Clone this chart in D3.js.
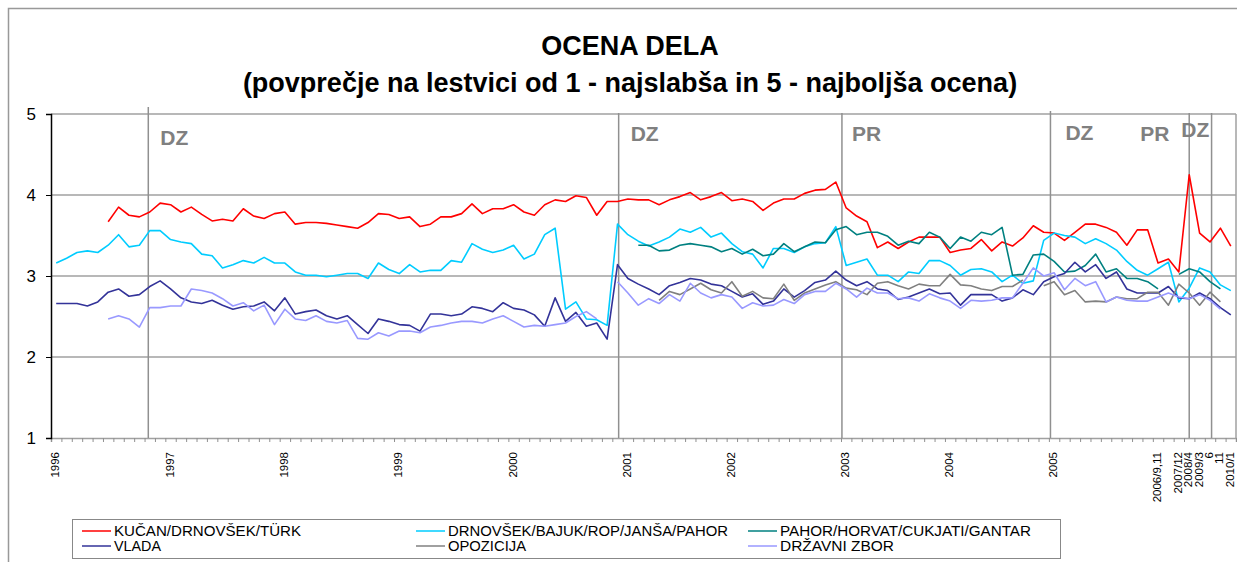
<!DOCTYPE html>
<html lang="sl">
<head>
<meta charset="UTF-8" />
<title>Ocena dela</title>
<script src="https://d3js.org/d3.v7.min.js"></script>
<style>
  body { margin: 0; background: #fff; font-family: "Liberation Sans", Arial, sans-serif; }
  svg text { font-family: "Liberation Sans", Arial, sans-serif; }
</style>
</head>
<body>
<svg width="1237" height="562"></svg>
<script>
// category labels, one per survey (most months unlabeled)
const categories = [
  "1996","","","","","","","","","","",
  "1997","","","","","","","","","","",
  "1998","","","","","","","","","","",
  "1999","","","","","","","","","","",
  "2000","","","","","","","","","","",
  "2001","","","","","","","","","",
  "2002","","","","","","","","","","",
  "2003","","","","","","","","","",
  "2004","","","","","","","","","",
  "2005","","","","","","","","","",
  "2006/9,11","","2007/12","2008/4","2009/3","6","11","2010/1"
];

const kucan = [null,null,null,null,null,3.67,3.85,3.75,3.73,3.79,3.90,3.88,3.79,3.85,3.76,3.68,3.70,3.68,3.83,3.74,3.71,3.77,3.79,3.64,3.66,3.66,3.65,3.63,3.61,3.59,3.66,3.77,3.76,3.71,3.73,3.61,3.64,3.73,3.73,3.77,3.89,3.77,3.83,3.83,3.88,3.79,3.75,3.88,3.94,3.92,3.99,3.97,3.75,3.92,3.92,3.95,3.94,3.94,3.88,3.94,3.98,4.03,3.94,3.98,4.03,3.93,3.95,3.92,3.81,3.90,3.95,3.95,4.02,4.06,4.07,4.16,3.84,3.74,3.67,3.35,3.42,3.34,3.42,3.48,3.48,3.48,3.29,3.32,3.34,3.45,3.31,3.42,3.37,3.47,3.62,3.54,3.53,3.44,3.54,3.64,3.64,3.60,3.54,3.38,3.57,3.57,3.16,3.21,3.05,4.25,3.53,3.42,3.59,3.37];

const drnovsek = [3.16,3.22,3.29,3.31,3.29,3.38,3.51,3.36,3.38,3.56,3.56,3.45,3.42,3.40,3.27,3.25,3.10,3.14,3.19,3.16,3.23,3.16,3.16,3.05,3.01,3.01,2.99,3.01,3.03,3.03,2.97,3.16,3.08,3.03,3.14,3.05,3.07,3.07,3.19,3.17,3.40,3.33,3.29,3.32,3.38,3.21,3.27,3.51,3.59,2.59,2.68,2.47,2.46,2.39,3.64,3.51,3.43,3.37,3.42,3.48,3.58,3.54,3.60,3.48,3.53,3.40,3.30,3.27,3.10,3.34,3.34,3.29,3.36,3.40,3.41,3.61,3.13,3.17,3.21,3.01,3.01,2.93,3.05,3.03,3.19,3.19,3.13,3.01,3.08,3.09,3.05,2.93,3.01,2.91,2.94,3.44,3.53,3.50,3.48,3.40,3.46,3.40,3.32,3.18,3.07,3.01,3.09,3.17,2.68,2.85,3.10,3.05,2.89,2.82];

const pahor = [null,null,null,null,null,null,null,null,null,null,null,null,null,null,null,null,null,null,null,null,null,null,null,null,null,null,null,null,null,null,null,null,null,null,null,null,null,null,null,null,null,null,null,null,null,null,null,null,null,null,null,null,null,null,null,null,3.38,3.38,3.31,3.32,3.38,3.40,3.38,3.36,3.30,3.34,3.27,3.33,3.25,3.27,3.40,3.30,3.36,3.42,3.41,3.57,3.61,3.51,3.54,3.54,3.49,3.38,3.43,3.40,3.54,3.48,3.34,3.48,3.43,3.54,3.51,3.60,3.01,3.02,3.26,3.27,3.18,3.05,3.06,3.13,3.27,3.05,3.09,2.97,2.97,2.93,2.84,null,3.02,3.09,3.05,2.93,2.84,null];

const vlada = [2.66,2.66,2.66,2.63,2.68,2.80,2.84,2.75,2.77,2.87,2.94,2.84,2.73,2.68,2.66,2.70,2.64,2.59,2.62,2.63,2.68,2.57,2.73,2.53,2.56,2.58,2.51,2.47,2.51,2.40,2.29,2.47,2.44,2.40,2.39,2.32,2.53,2.53,2.51,2.53,2.62,2.60,2.56,2.67,2.60,2.58,2.52,2.38,2.73,2.44,2.55,2.38,2.42,2.22,3.14,2.97,2.90,2.84,2.77,2.88,2.92,2.97,2.95,2.90,2.88,2.81,2.74,2.78,2.65,2.69,2.84,2.74,2.82,2.92,2.95,3.06,2.95,2.88,2.93,2.84,2.82,2.71,2.74,2.79,2.84,2.78,2.79,2.64,2.77,2.77,2.77,2.69,2.73,2.83,2.77,2.93,2.99,3.03,3.17,3.05,3.14,2.97,3.05,2.84,2.79,2.79,2.79,2.87,2.73,2.72,2.79,2.72,2.61,2.52];

const opozicija = [null,null,null,null,null,null,null,null,null,null,null,null,null,null,null,null,null,null,null,null,null,null,null,null,null,null,null,null,null,null,null,null,null,null,null,null,null,null,null,null,null,null,null,null,null,null,null,null,null,null,null,null,null,null,null,null,null,null,2.70,2.81,2.77,2.84,2.91,2.83,2.79,2.93,2.75,2.81,2.73,2.72,2.90,2.70,2.79,2.84,2.89,2.93,2.85,2.83,2.77,2.91,2.93,2.88,2.84,2.90,2.88,2.88,3.02,2.89,2.88,2.84,2.82,2.87,2.87,2.95,null,2.88,2.93,2.77,2.82,2.68,2.69,2.68,2.74,2.72,2.72,2.80,2.80,2.64,2.90,2.79,2.64,2.80,2.68,null];

const drzavniZbor = [null,null,null,null,null,2.47,2.51,2.47,2.37,2.61,2.61,2.63,2.63,2.84,2.82,2.79,2.72,2.63,2.67,2.57,2.64,2.40,2.59,2.47,2.45,2.51,2.44,2.42,2.45,2.23,2.22,2.30,2.26,2.32,2.32,2.30,2.37,2.39,2.42,2.44,2.44,2.42,2.47,2.51,2.44,2.37,2.39,2.38,2.40,2.42,2.50,2.56,2.47,null,2.93,2.79,2.64,2.72,2.66,2.77,2.69,2.91,2.79,2.73,2.77,2.74,2.60,2.67,2.63,2.64,2.71,2.66,2.77,2.81,2.81,2.91,2.84,2.74,2.85,2.79,2.79,2.72,2.73,2.69,2.78,2.73,2.69,2.60,2.70,2.69,2.70,2.73,2.73,2.91,3.10,3.00,3.04,2.83,2.97,2.88,2.93,2.68,2.74,2.70,2.69,2.69,2.74,2.79,2.74,2.72,2.77,2.70,2.59,null];

const seriesNames = ["KUČAN/DRNOVŠEK/TÜRK", "DRNOVŠEK/BAJUK/ROP/JANŠA/PAHOR", "PAHOR/HORVAT/CUKJATI/GANTAR", "VLADA", "OPOZICIJA", "DRŽAVNI ZBOR"];
const seriesValues = [kucan, drnovsek, pahor, vlada, opozicija, drzavniZbor];
const seriesColors = ["#ff0000", "#00ccff", "#008080", "#333399", "#808080", "#9999ff"];

// election markers, position in category units
const events = [
  { at: 9.36, label: "DZ", top: 107, dx: 12, ly: 145 },
  { at: 54.61, label: "DZ", top: 113, dx: 12, ly: 141 },
  { at: 76.09, label: "PR", top: 113, dx: 10, ly: 141 },
  { at: 96.15, label: "DZ", top: 111, dx: 15, ly: 140 },
  { at: 104.8, label: "PR", top: null, dx: 0, ly: 141 },
  { at: 109.5, label: "DZ", top: 113, dx: -8, ly: 137 },
  { at: 111.65, label: "", top: 113, dx: 0, ly: 0 }
];

const yTicks = [1, 2, 3, 4, 5];

const svg = d3.select("svg");
const margin = { left: 51, right: 1236, top: 114, bottom: 438 };

// outer chart frame
svg.append("rect")
  .attr("x", 8.5).attr("y", 8.5)
  .attr("width", 1240).attr("height", 560)
  .attr("fill", "none").attr("stroke", "#999").attr("stroke-width", 1.5);

svg.append("text")
  .attr("x", 630).attr("y", 55)
  .attr("text-anchor", "middle")
  .attr("font-size", 27).attr("font-weight", "bold")
  .text("OCENA DELA");
svg.append("text")
  .attr("x", 630).attr("y", 92)
  .attr("text-anchor", "middle")
  .attr("font-size", 27).attr("font-weight", "bold")
  .text("(povprečje na lestvici od 1 - najslabša in 5 - najboljša ocena)");

const x = d3.scaleBand()
  .domain(d3.range(categories.length))
  .range([margin.left, margin.right]);
const xPos = d3.scaleLinear()
  .domain([0, categories.length])
  .range([margin.left, margin.right]);
const y = d3.scaleLinear().domain([1, 5]).range([margin.bottom, margin.top]);

// gridlines
svg.append("g")
  .selectAll("line")
  .data(yTicks.filter(d => d > 1))
  .join("line")
  .attr("x1", margin.left).attr("x2", margin.right)
  .attr("y1", d => y(d)).attr("y2", d => y(d))
  .attr("stroke", "#a0a0a0").attr("stroke-width", 1.5);

svg.append("line")
  .attr("x1", margin.right).attr("x2", margin.right)
  .attr("y1", margin.top).attr("y2", margin.bottom)
  .attr("stroke", "#a0a0a0").attr("stroke-width", 1.5);

// x axis
const xAxis = svg.append("g")
  .attr("transform", `translate(0,${margin.bottom})`)
  .call(d3.axisBottom(xPos)
    .tickValues(d3.range(categories.length + 1))
    .tickSize(4)
    .tickFormat(""));
xAxis.select(".domain").attr("stroke", "#a0a0a0").attr("stroke-width", 1.5);
xAxis.selectAll(".tick line").attr("stroke", "#909090");

svg.append("g")
  .selectAll("text")
  .data(categories.map((c, i) => ({ c, i })).filter(d => d.c !== ""))
  .join("text")
  .attr("transform", d => `translate(${x(d.i) + x.bandwidth() / 2 + 3},452) rotate(-90)`)
  .attr("text-anchor", "end")
  .attr("font-size", 11.5)
  .text(d => d.c);

// y axis
const yAxis = svg.append("g")
  .attr("transform", `translate(${margin.left},0)`)
  .call(d3.axisLeft(y).tickValues(yTicks).tickSize(5).tickPadding(10).tickFormat(d3.format("d")));
yAxis.select(".domain").attr("stroke", "#000").attr("stroke-width", 1.5);
yAxis.selectAll("text").attr("font-size", 17).attr("fill", "#000");

// election markers
const ev = svg.append("g");
ev.selectAll("line")
  .data(events.filter(d => d.top !== null))
  .join("line")
  .attr("x1", d => xPos(d.at)).attr("x2", d => xPos(d.at))
  .attr("y1", d => d.top).attr("y2", margin.bottom)
  .attr("stroke", "#909090").attr("stroke-width", 1.5);
ev.selectAll("text")
  .data(events.filter(d => d.label))
  .join("text")
  .attr("x", d => xPos(d.at) + d.dx)
  .attr("y", d => d.ly)
  .attr("font-size", 21).attr("font-weight", "bold")
  .attr("fill", "#808080")
  .text(d => d.label);

// series lines
const line = d3.line()
  .defined(d => d != null)
  .x((d, i) => x(i) + x.bandwidth() / 2)
  .y(d => y(d));

svg.append("g")
  .selectAll("path")
  .data(seriesValues)
  .join("path")
  .attr("fill", "none")
  .attr("stroke", (d, i) => seriesColors[i])
  .attr("stroke-width", 1.6)
  .attr("stroke-linejoin", "round")
  .attr("d", line);

// legend
const legend = svg.append("g");
legend.append("rect")
  .attr("x", 72.5).attr("y", 519.5)
  .attr("width", 988).attr("height", 39)
  .attr("fill", "#fff").attr("stroke", "#888");

const legendCols = [82, 416, 748];
const legendWidths = [187, 280, 251, 47, 78, 114];
const item = legend.selectAll("g")
  .data(seriesNames)
  .join("g")
  .attr("transform", (d, i) => `translate(${legendCols[i % 3]},${i < 3 ? 531 : 546})`);
item.append("line")
  .attr("x1", 0).attr("x2", 29)
  .attr("stroke", (d, i) => seriesColors[i]).attr("stroke-width", 1.5);
item.append("text")
  .attr("x", 32).attr("dy", "0.36em")
  .attr("font-size", 14)
  .attr("textLength", (d, i) => legendWidths[i])
  .attr("lengthAdjust", "spacingAndGlyphs")
  .text(d => d);
</script>
</body>
</html>
